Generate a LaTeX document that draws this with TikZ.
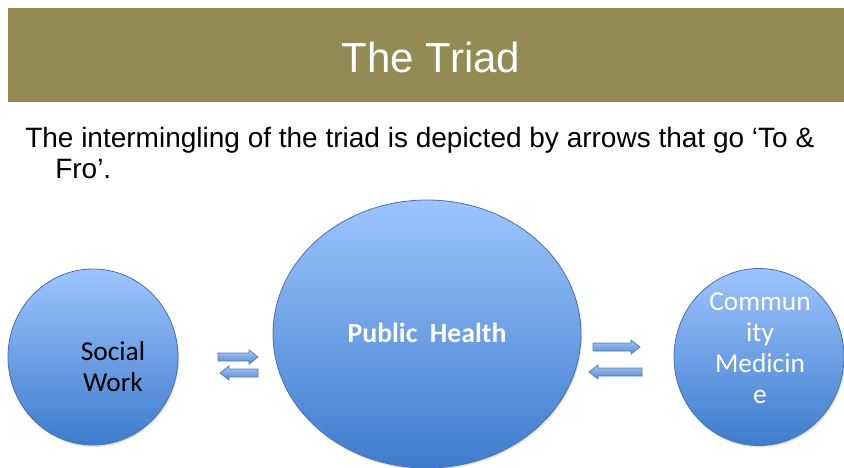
\documentclass[tikz,border=0pt]{standalone}
\usepackage{fontspec}
\setmainfont{Liberation Sans}
\newfontfamily\calfont{Carlito}
\usetikzlibrary{shapes.geometric}
\definecolor{titlebg}{RGB}{148,138,84}
\definecolor{ctop}{RGB}{157,196,255}
\definecolor{cbot}{RGB}{62,124,204}
\definecolor{cedge}{RGB}{72,112,172}
\definecolor{atop}{RGB}{170,200,242}
\definecolor{abot}{RGB}{84,134,210}
\definecolor{aedge}{RGB}{79,129,189}
\tikzset{
  bubble/.style={ellipse, inner sep=0pt, top color=ctop, bottom color=cbot, draw=cedge, line width=0.6pt},
  bubbleshadow/.style={ellipse, inner sep=0pt, fill=black, fill opacity=0.12},
  blockarrow/.style={top color=atop, bottom color=abot, draw=aedge, line width=0.6pt, line join=miter},
  bubbletext/.style={font=\calfont\fontsize{20.5}{23.25}\selectfont, align=center, inner sep=0pt}
}
\newcommand{\myRarrow}[4]{% name, x1, x2, y
  \path[blockarrow] (#2,#4-4) -- (#3-9,#4-4) -- (#3-9,#4-7) -- (#3,#4) -- (#3-9,#4+7) -- (#3-9,#4+4) -- (#2,#4+4) -- cycle;
  \coordinate (#1) at ({(#2+#3)/2},#4);}
\newcommand{\myLarrow}[4]{% name, x1, x2, y
  \path[blockarrow] (#3,#4-4) -- (#2+9,#4-4) -- (#2+9,#4-7) -- (#2,#4) -- (#2+9,#4+7) -- (#2+9,#4+4) -- (#3,#4+4) -- cycle;
  \coordinate (#1) at ({(#2+#3)/2},#4);}
\begin{document}
\begin{tikzpicture}[x=0.75pt,y=-0.75pt]
\useasboundingbox (0,0) rectangle (844,468);
% title bar
\fill[titlebg] (8,8) rectangle (844,102);
\node[white, font=\fontsize{31.5}{36}\selectfont, inner sep=0pt] (title) at (431,57) {The Triad};
% body text
\node[anchor=base west, inner sep=0pt, font=\fontsize{21}{25}\selectfont] (line1) at (25,147) {The intermingling of the triad is depicted by arrows that go ‘To \&};
\node[anchor=base west, inner sep=0pt, font=\fontsize{21}{25}\selectfont] (line2) at (55,178) {Fro’.};
% shadows
\node[bubbleshadow, minimum width=127.5pt, minimum height=132pt] at (94,359) {};
\node[bubbleshadow, minimum width=231pt, minimum height=201pt] at (428,336) {};
\node[bubbleshadow, minimum width=127.5pt, minimum height=132.75pt] at (760,359) {};
% bubbles
\node[bubble, minimum width=127.5pt, minimum height=132pt] (sw) at (93,357) {};
\node[bubble, minimum width=231pt, minimum height=201pt] (ph) at (427,334) {};
\node[bubble, minimum width=127.5pt, minimum height=132.75pt] (cm) at (759,357) {};
% texts
\node[bubbletext, text=black] (swt) at (113,367) {Social\\Work};
\node[inner sep=0pt, white, font=\calfont\bfseries\fontsize{20.8}{24}\selectfont] (pht) at (427,333) {Public\ \ Health};
\node[bubbletext, text=white] (cmt) at (760,348.5) {Commun\\ity\\Medicin\\e};
% arrows
\myRarrow{a1}{218}{258}{357}
\myLarrow{a2}{220}{258}{373}
\myRarrow{a3}{593}{640}{347}
\myLarrow{a4}{589}{642}{372}
\end{tikzpicture}
\end{document}
